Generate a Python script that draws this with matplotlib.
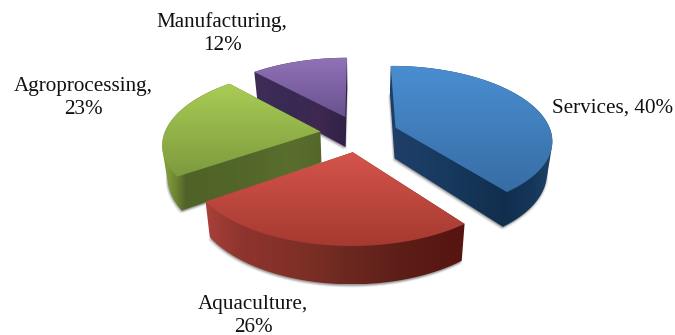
import matplotlib
matplotlib.use("Agg")
import matplotlib.pyplot as plt
from matplotlib.colors import LinearSegmentedColormap, to_rgb
from matplotlib.patches import Polygon
import numpy as np

sectors = ["Services", "Aquaculture", "Agroprocessing", "Manufacturing"]
shares = [40, 26, 23, 12]

# top face gradient (back edge, front edge)
top_colors = {
    "Services": ("#4a8ed0", "#376da6"),
    "Aquaculture": ("#d5544c", "#a53a30"),
    "Agroprocessing": ("#a9cc56", "#7d9a3d"),
    "Manufacturing": ("#9172b8", "#69528e"),
}
# side wall colour by screen x
wall_stops = {
    "Services": ([397, 450, 503, 530, 555], ["#1e3e68", "#17395e", "#112e4e", "#153658", "#1f4468"]),
    "Aquaculture": ([205, 240, 300, 350, 400, 462], ["#a8413a", "#8f342e", "#7f3026", "#6a2820", "#5e1e18", "#561510"]),
    "Agroprocessing": ([162, 176, 186, 250, 290, 322], ["#8ca640", "#6d8433", "#4f6227", "#53672a", "#5a6e2e", "#53672a"]),
    "Manufacturing": ([255, 290, 320, 348], ["#3f2d57", "#372a55", "#3f2850", "#2e2045"]),
}
draw_order = ["Manufacturing", "Agroprocessing", "Services", "Aquaculture"]

# projection of the tilted pie onto the canvas
cx, cy = 359, 133.5
rx, ry = 156, 73
persp = 0.153
explode = 0.25
wall_h = 31
base_shrink = 0.973


def project(u, v, drop=False):
    s = 1 / (1 + persp * v)
    if drop:
        return cx + s * u * rx * base_shrink, cy - s * v * ry + s * wall_h
    return cx + s * u * rx, cy - s * v * ry


def convex_hull(pts):
    pts = sorted(set(map(tuple, pts)))

    def half(seq):
        out = []
        for p in seq:
            while len(out) > 1:
                a, b = np.subtract(out[-1], out[-2]), np.subtract(p, out[-1])
                if a[0] * b[1] - a[1] * b[0] > 0:
                    break
                out.pop()
            out.append(p)
        return out[:-1]

    return np.array(half(pts) + half(pts[::-1]))


def wedge_outline(i):
    t0, t1 = starts[i], ends[i]
    mid = (t0 + t1) / 2
    ou, ov = explode * np.sin(mid), explode * np.cos(mid)
    t = np.linspace(t0, t1, 80)
    return np.r_[ou, ou + np.sin(t)], np.r_[ov, ov + np.cos(t)]


fig = plt.figure(figsize=(6.75, 3.35), dpi=100)
ax = fig.add_axes([0, 0, 1, 1])

fractions = np.array(shares) / sum(shares)
ends = np.cumsum(fractions) * 2 * np.pi
starts = ends - fractions * 2 * np.pi

# soft grey shadow under each slice
for name in draw_order:
    u, v = wedge_outline(sectors.index(name))
    bx, by = project(u, v, drop=True)
    for off, alpha in [(3.0, 0.10), (2.0, 0.18), (1.0, 0.25)]:
        ax.add_patch(Polygon(np.c_[bx - off * 0.6, by + off], closed=True, fc="#606060",
                             ec="none", alpha=alpha, zorder=1))
        ax.add_patch(Polygon(np.c_[bx + off * 0.4, by + off], closed=True, fc="#606060",
                             ec="none", alpha=alpha * 0.6, zorder=1))

for z, name in enumerate(draw_order):
    z = 2 + z * 2
    u, v = wedge_outline(sectors.index(name))
    tx, ty = project(u, v)
    bx, by = project(u, v, drop=True)

    # side wall: horizontal colour ramp clipped to the extruded silhouette
    hull = convex_hull(np.r_[np.c_[tx, ty], np.c_[bx, by]])
    body = Polygon(hull, closed=True, fc="none", ec="none", zorder=z)
    ax.add_patch(body)
    x0, x1 = hull[:, 0].min(), hull[:, 0].max()
    xs, cols = wall_stops[name]
    stops = np.array([to_rgb(c) for c in cols])
    px = np.linspace(x0, x1, 256)
    ramp = np.stack([np.interp(px, xs, stops[:, k]) for k in range(3)], axis=-1)[None, :, :]
    im = ax.imshow(ramp, aspect="auto", interpolation="bilinear",
                   extent=(x0, x1, hull[:, 1].max(), hull[:, 1].min()), zorder=z)
    im.set_clip_path(body)

    # top face with a vertical gradient clipped to the wedge outline
    outline = Polygon(np.c_[tx, ty], closed=True, fc="none", ec="none", zorder=z + 1)
    ax.add_patch(outline)
    cmap = LinearSegmentedColormap.from_list(name, top_colors[name])
    grad = np.linspace(0, 1, 128).reshape(-1, 1)
    im = ax.imshow(grad, cmap=cmap, aspect="auto", interpolation="bilinear",
                   extent=(tx.min(), tx.max(), ty.max(), ty.min()), zorder=z + 1)
    im.set_clip_path(outline)

ax.set_xlim(0, 675)
ax.set_ylim(335, 0)
ax.axis("off")

font = dict(family="Liberation Serif", fontsize=15.2, color="#111111", ha="center", va="center", zorder=20)
ax.text(613, 108, f"{sectors[0]}, {shares[0]}%", **font)
ax.text(253, 304, f"{sectors[1]},", **font)
ax.text(253, 327, f"{shares[1]}%", **font)
ax.text(83, 87, f"{sectors[2]},", **font)
ax.text(83, 110, f"{shares[2]}%", **font)
ax.text(222, 22, f"{sectors[3]},", **font)
ax.text(222, 45, f"{shares[3]}%", **font)

fig.savefig("out.png", dpi=100)
